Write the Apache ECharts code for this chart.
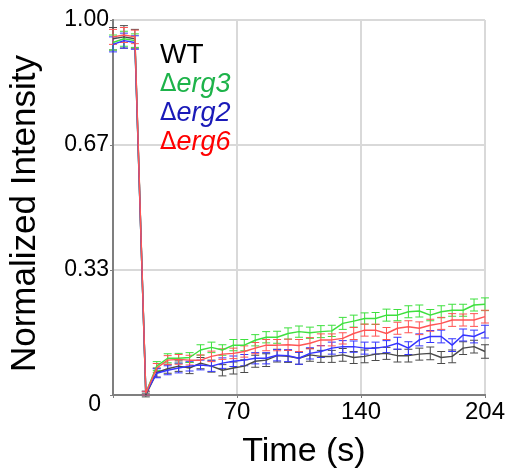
<!DOCTYPE html>
<html>
<head>
<meta charset="utf-8">
<script src="https://cdn.jsdelivr.net/npm/echarts@6/dist/echarts.min.js"></script>
<style>
  html, body { margin: 0; padding: 0; background: #fff; }
  #main { width: 508px; height: 474px; }
</style>
</head>
<body>
<div id="main"></div>
<script>
// time points (s)
var times = [0, 6, 12, 18, 24, 30, 36, 42, 48, 54, 60, 66, 72, 78, 84, 90, 96,
  102, 108, 114, 120, 126, 132, 138, 144, 150, 156, 162, 168, 174, 180, 186, 192, 198, 204];

var wt = [0.95, 0.955, 0.95, 0.0, 0.06, 0.07, 0.077, 0.072, 0.085, 0.077, 0.066, 0.072, 0.077, 0.09, 0.093, 0.105, 0.103,
  0.098, 0.107, 0.103, 0.103, 0.107, 0.1, 0.103, 0.109, 0.111, 0.105, 0.105, 0.109, 0.111, 0.1, 0.103, 0.125, 0.129, 0.116];
var wtErr = [0.03, 0.03, 0.025, 0.005, 0.012, 0.012, 0.014, 0.015, 0.015, 0.016, 0.015, 0.016, 0.017, 0.016, 0.017, 0.017, 0.016,
  0.016, 0.017, 0.016, 0.016, 0.017, 0.016, 0.017, 0.017, 0.016, 0.017, 0.017, 0.016, 0.017, 0.016, 0.017, 0.017, 0.017, 0.018];

var erg3 = [0.94, 0.95, 0.945, 0.005, 0.077, 0.098, 0.098, 0.1, 0.12, 0.127, 0.12, 0.133, 0.133, 0.146, 0.154, 0.154, 0.164,
  0.169, 0.166, 0.169, 0.171, 0.191, 0.197, 0.204, 0.204, 0.213, 0.213, 0.222, 0.224, 0.213, 0.222, 0.226, 0.226, 0.24, 0.242];
var erg3Err = [0.02, 0.02, 0.018, 0.005, 0.012, 0.012, 0.013, 0.013, 0.014, 0.014, 0.014, 0.015, 0.015, 0.015, 0.015, 0.016, 0.015,
  0.015, 0.015, 0.016, 0.015, 0.016, 0.016, 0.015, 0.016, 0.016, 0.015, 0.016, 0.016, 0.015, 0.016, 0.016, 0.016, 0.016, 0.017];

var erg2 = [0.935, 0.945, 0.94, 0.005, 0.058, 0.066, 0.072, 0.077, 0.08, 0.077, 0.085, 0.09, 0.093, 0.098, 0.098, 0.106, 0.105,
  0.098, 0.111, 0.116, 0.125, 0.129, 0.129, 0.125, 0.125, 0.129, 0.138, 0.125, 0.147, 0.156, 0.156, 0.133, 0.16, 0.156, 0.169];
var erg2Err = [0.02, 0.02, 0.018, 0.005, 0.012, 0.012, 0.013, 0.013, 0.013, 0.014, 0.014, 0.014, 0.015, 0.015, 0.015, 0.015, 0.016,
  0.016, 0.015, 0.016, 0.016, 0.016, 0.015, 0.016, 0.016, 0.016, 0.016, 0.017, 0.016, 0.016, 0.017, 0.017, 0.016, 0.017, 0.017];

var erg6 = [0.955, 0.96, 0.955, 0.005, 0.072, 0.093, 0.095, 0.093, 0.093, 0.103, 0.109, 0.111, 0.116, 0.125, 0.133, 0.133, 0.134,
  0.132, 0.138, 0.147, 0.147, 0.151, 0.164, 0.173, 0.173, 0.164, 0.178, 0.182, 0.178, 0.186, 0.191, 0.2, 0.2, 0.2, 0.209];
var erg6Err = [0.02, 0.02, 0.018, 0.005, 0.012, 0.012, 0.013, 0.013, 0.014, 0.014, 0.014, 0.014, 0.015, 0.015, 0.015, 0.015, 0.015,
  0.016, 0.015, 0.016, 0.016, 0.015, 0.016, 0.016, 0.016, 0.016, 0.016, 0.016, 0.017, 0.016, 0.016, 0.017, 0.016, 0.017, 0.017];

var xTickLabels = ['', '70', '140', '204'];
var yTickLabels = ['0', '0.33', '0.67', '1.00'];

var groups = [
  { name: 'WT', values: wt, err: wtErr, color: '#4a4a4a', text: '#000000' },
  { name: 'Δerg3', values: erg3, err: erg3Err, color: '#3ee03e', text: '#1db34a' },
  { name: 'Δerg2', values: erg2, err: erg2Err, color: '#3535ff', text: '#1a1ab8' },
  { name: 'Δerg6', values: erg6, err: erg6Err, color: '#ff5555', text: '#ff0000' }
];

var chart = echarts.init(document.getElementById('main'), null, { renderer: 'canvas' });

function errorBars(color) {
  return function (params, api) {
    var lo = api.coord([api.value(0), api.value(1)]);
    var hi = api.coord([api.value(0), api.value(2)]);
    var hw = 4;
    var style = { stroke: color, lineWidth: 1 };
    return {
      type: 'group',
      children: [
        { type: 'line', shape: { x1: lo[0], y1: lo[1], x2: hi[0], y2: hi[1] }, style: style },
        { type: 'line', shape: { x1: lo[0] - hw, y1: lo[1], x2: lo[0] + hw, y2: lo[1] }, style: style },
        { type: 'line', shape: { x1: hi[0] - hw, y1: hi[1], x2: hi[0] + hw, y2: hi[1] }, style: style }
      ]
    };
  };
}

var series = [];
groups.forEach(function (g) {
  series.push({
    name: g.name,
    type: 'custom',
    renderItem: errorBars(g.color),
    data: times.map(function (t, i) { return [t, g.values[i] - g.err[i], g.values[i] + g.err[i]]; }),
    encode: { x: 0, y: [1, 2] },
    silent: true,
    z: 2
  });
  series.push({
    name: g.name,
    type: 'line',
    data: times.map(function (t, i) { return [t, g.values[i]]; }),
    symbol: 'none',
    lineStyle: { color: g.color, width: 1.5 },
    itemStyle: { color: g.color },
    animation: false,
    z: 3
  });
});

var axisGray = '#7f7f7f';
var gridGray = '#d9d9d9';

var option = {
  animation: false,
  textStyle: { fontFamily: 'Liberation Sans, Arial, sans-serif' },
  grid: { left: 106, right: 20, top: 20, bottom: 77 },
  legend: {
    orient: 'vertical',
    left: 150,
    top: 36,
    itemGap: 0,
    itemWidth: 0,
    itemHeight: 0,
    icon: 'none',
    selectedMode: false,
    data: groups.map(function (g) {
      return { name: g.name, textStyle: { color: g.text } };
    }),
    formatter: function (name) {
      if (name === 'WT') return '{n|WT}';
      return '{d|Δ}{i|' + name.slice(1) + '}';
    },
    textStyle: {
      fontSize: 27,
      lineHeight: 29,
      rich: {
        n: { fontSize: 28, lineHeight: 29 },
        d: { fontSize: 24, lineHeight: 29, fontFamily: 'DejaVu Sans' },
        i: { fontSize: 27, lineHeight: 29, fontStyle: 'italic' }
      }
    }
  },
  xAxis: [{
    type: 'value',
    min: 0,
    max: 204,
    interval: 68,
    name: 'Time (s)',
    nameLocation: 'middle',
    nameGap: 40,
    nameTextStyle: { fontSize: 34, color: '#000', padding: [0, 0, 0, 10] },
    axisLine: { lineStyle: { color: axisGray, width: 2 } },
    axisTick: { show: true, length: 3, lineStyle: { color: axisGray } },
    axisLabel: {
      fontSize: 24,
      color: '#000',
      margin: 5,
      formatter: function (v) { return xTickLabels[Math.round(v / 68)]; }
    },
    splitLine: { show: true, lineStyle: { color: gridGray, width: 2 } }
  }, {
    type: 'value',
    position: 'top',
    min: 0,
    max: 204,
    axisLine: { show: true, lineStyle: { color: axisGray, width: 2 } },
    axisTick: { show: false },
    axisLabel: { show: false },
    splitLine: { show: false }
  }],
  yAxis: [{
    type: 'value',
    min: 0,
    max: 1,
    interval: 1 / 3,
    name: 'Normalized Intensity',
    nameLocation: 'middle',
    nameGap: 70,
    nameTextStyle: { fontSize: 35, color: '#000', padding: [0, 12, 0, 0] },
    axisLine: { show: true, lineStyle: { color: axisGray, width: 2 } },
    axisTick: { show: true, length: 3, lineStyle: { color: axisGray } },
    axisLabel: {
      fontSize: 23,
      color: '#000',
      margin: 4,
      formatter: function (v) {
        var k = Math.round(v * 3);
        if (k === 0) return '{o|' + yTickLabels[0] + '}';
        return yTickLabels[k];
      },
      rich: {
        o: { fontSize: 23, padding: [20, 8, 0, 0] }
      }
    },
    splitLine: { show: true, lineStyle: { color: gridGray, width: 2 } }
  }, {
    type: 'value',
    position: 'right',
    min: 0,
    max: 1,
    axisLine: { show: true, lineStyle: { color: axisGray, width: 2 } },
    axisTick: { show: false },
    axisLabel: { show: false },
    splitLine: { show: false }
  }],
  series: series
};

chart.setOption(option);
</script>
</body>
</html>
